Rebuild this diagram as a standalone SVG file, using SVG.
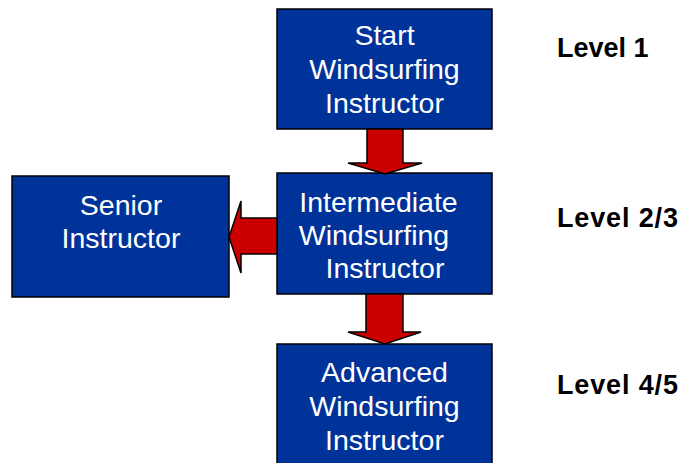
<svg xmlns="http://www.w3.org/2000/svg" width="680" height="463" viewBox="0 0 680 463">
<style>
.box{fill:#003399;stroke:#000;stroke-width:1.5}
.arr{fill:#cc0000;stroke:#000;stroke-width:1.5;stroke-linejoin:miter}
.t{font-family:"Liberation Sans",Arial,sans-serif;font-size:28.5px;fill:#fff;text-anchor:middle}
.lv{font-family:"Liberation Sans",Arial,sans-serif;font-size:27px;font-weight:bold;fill:#000}
</style>
<rect width="680" height="463" fill="#fff"/>
<g id="start">
<rect class="box" x="277" y="9" width="215" height="120"/>
<text class="t" x="384.5" y="45">Start</text>
<text class="t" x="384.5" y="79">Windsurfing</text>
<text class="t" x="384.5" y="113">Instructor</text>
</g>
<g id="intermediate">
<rect class="box" x="277" y="173" width="215" height="121"/>
<text class="t" x="378.5" y="212">Intermediate</text>
<text class="t" x="374" y="245">Windsurfing</text>
<text class="t" x="385" y="278">Instructor</text>
</g>
<g id="advanced">
<rect class="box" x="277" y="344" width="215" height="130"/>
<text class="t" x="384.5" y="382">Advanced</text>
<text class="t" x="384.5" y="416">Windsurfing</text>
<text class="t" x="384.5" y="450">Instructor</text>
</g>
<g id="senior">
<rect class="box" x="12" y="176" width="217" height="121"/>
<text class="t" x="121" y="215">Senior</text>
<text class="t" x="121" y="248">Instructor</text>
</g>
<g id="connectors">
<polygon class="arr" points="367,129 403,129 403,163 422,163 385,174 348,163 367,163"/>
<polygon class="arr" points="366,294 403,294 403,332 421,332 385,344 348,332 366,332"/>
<polygon class="arr" points="277,218 241,218 241,201 229,237 241,273 241,254 277,254"/>
</g>
<g id="levels">
<text class="lv" x="557" y="57">Level 1</text>
<text class="lv" x="557" y="227" textLength="121">Level 2/3</text>
<text class="lv" x="557" y="394" textLength="121">Level 4/5</text>
</g>
</svg>
